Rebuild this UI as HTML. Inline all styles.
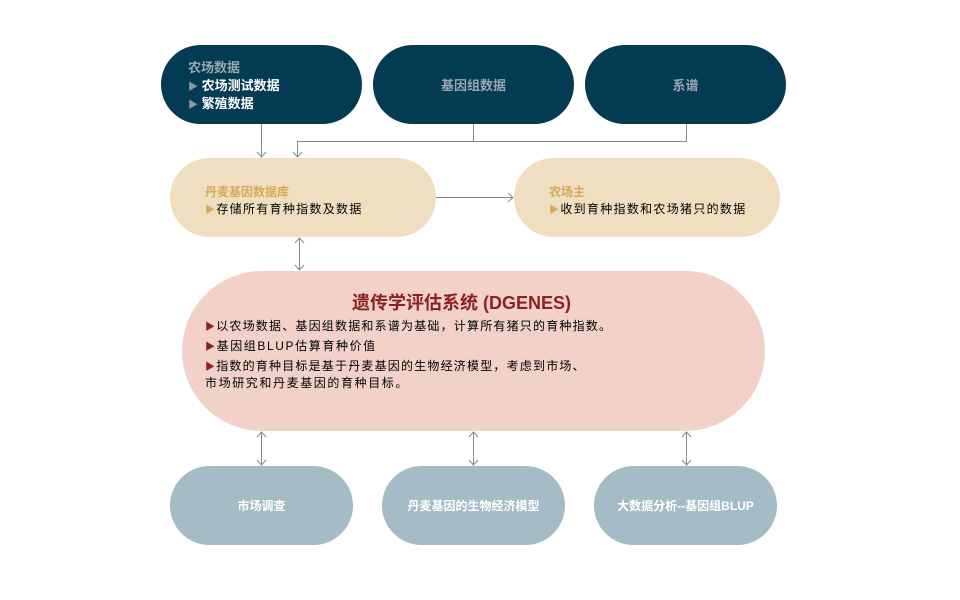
<!DOCTYPE html>
<html><head><meta charset="utf-8"><style>
body{margin:0;width:960px;height:600px;background:#fff;position:relative;overflow:hidden;font-family:"Liberation Sans","Noto Sans CJK SC",sans-serif}
.p{position:absolute;border-radius:40px;box-sizing:border-box}
.d{background:#033b53;height:79px;top:45px;width:201px}
.t{background:#efdebf;height:79px;top:158px}
.b{background:#a5bbc5;height:79px;top:466px;width:183px;color:#fff;font-weight:bold;font-size:12px;display:flex;align-items:center;justify-content:center}
.c{display:flex;align-items:center;justify-content:center;color:#9aa7b0;font-weight:bold;font-size:13px}
.a{position:absolute;font-size:12px;white-space:nowrap}
svg{position:absolute;left:0;top:0}
</style></head><body>
<div class="p d" style="left:161px"></div>
<div class="p d c" style="left:373px">基因组数据</div>
<div class="p d c" style="left:585px">系谱</div>
<div class="a" style="left:188px;top:57px;color:#9aa7b0;font-weight:bold;font-size:13px">农场数据</div>
<div class="a" style="left:188px;top:75px;color:#fff;font-weight:bold;font-size:13px"><span style="color:#8a9aa5;font-size:10px">▶</span> 农场测试数据</div>
<div class="a" style="left:188px;top:93px;color:#fff;font-weight:bold;font-size:13px"><span style="color:#8a9aa5;font-size:10px">▶</span> 繁殖数据</div>
<div class="p t" style="left:170px;width:266px"></div>
<div class="p t" style="left:514px;width:266px"></div>
<div class="a" style="left:205px;top:183px;color:#d7a95a;font-weight:bold">丹麦基因数据库</div>
<div class="a" style="left:205px;top:200px;letter-spacing:1.3px"><span style="color:#d7a95a;font-size:10px">▶</span>存储所有育种指数及数据</div>
<div class="a" style="left:549px;top:183px;color:#d7a95a;font-weight:bold">农场主</div>
<div class="a" style="left:549px;top:200px;letter-spacing:1.3px"><span style="color:#d7a95a;font-size:10px">▶</span>收到育种指数和农场猪只的数据</div>
<div class="p" style="left:182px;top:271px;width:583px;height:160px;background:#f1d1c8;border-radius:80px"></div>
<div class="a" style="left:352px;top:289px;color:#8c2126;font-weight:bold;font-size:18px">遗传学评估系统 (DGENES)</div>
<div class="a" style="left:205px;top:317px;letter-spacing:1.2px"><span style="color:#8c2126;font-size:10px">▶</span>以农场数据、基因组数据和系谱为基础，计算所有猪只的育种指数。</div>
<div class="a" style="left:205px;top:337px;letter-spacing:1.6px"><span style="color:#8c2126;font-size:10px">▶</span>基因组BLUP估算育种价值</div>
<div class="a" style="left:205px;top:357px;letter-spacing:1.2px"><span style="color:#8c2126;font-size:10px">▶</span>指数的育种目标是基于丹麦基因的生物经济模型，考虑到市场、</div>
<div class="a" style="left:205px;top:374px;letter-spacing:1.6px">市场研究和丹麦基因的育种目标。</div>
<div class="p b" style="left:170px">市场调查</div>
<div class="p b" style="left:382px">丹麦基因的生物经济模型</div>
<div class="p b" style="left:594px">大数据分析--基因组BLUP</div>
<svg width="960" height="600" fill="none" stroke="#7f8c95" stroke-width="1">
<path d="M261.5 124V157M257 152l4.5 5 4.5-5"/>
<path d="M473.5 124V141.5M686.5 124V141.5H297.5V157M293 152l4.5 5 4.5-5"/>
<path d="M436 197.5H513M508 193l5 4.5-5 4.5"/>
<path d="M299.5 238V270M295 243l4.5-5 4.5 5M295 265l4.5 5 4.5-5"/>
<path d="M261.5 432V465M257 437l4.5-5 4.5 5M257 460l4.5 5 4.5-5"/>
<path d="M473.5 432V465M469 437l4.5-5 4.5 5M469 460l4.5 5 4.5-5"/>
<path d="M686.5 432V465M682 437l4.5-5 4.5 5M682 460l4.5 5 4.5-5"/>
</svg>
</body></html>
